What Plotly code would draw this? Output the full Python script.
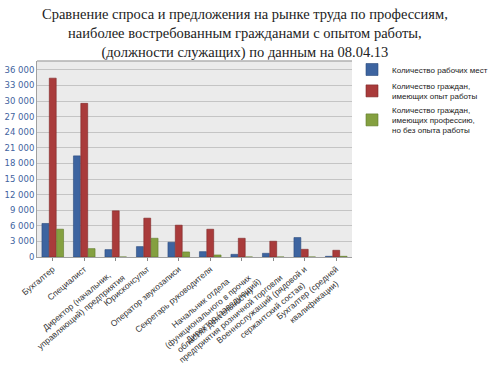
import plotly.graph_objects as go

NB = "\u00a0"
categories = [
    "Бухгалтер",
    "Специалист",
    "Директор (начальник," + NB * 4 + "<br>управляющий) предприятия",
    "Юрисконсульт",
    "Оператор звукозаписи",
    "Секретарь руководителя",
    "Начальник отдела" + NB * 8 + "<br>(функционального в прочих<br>областях деятельности)" + NB * 3,
    "Директор (заведующий)" + NB * 8 + "<br>предприятия розничной торговли",
    "Военнослужащий (рядовой и<br>сержантский состав)" + NB * 5,
    "Бухгалтер (средней<br>квалификации)" + NB * 4,
]
series_names = [
    "Количество рабочих мест",
    "Количество граждан,<br>имеющих опыт работы",
    "Количество граждан,<br>имеющих профессию,<br>но без опыта работы",
]
jobs = [6450, 19450, 1420, 2000, 2830, 1030, 510, 710, 3740, 130]
experienced = [34400, 29550, 8880, 7470, 6120, 5340, 3600, 3030, 1480, 1290]
no_experience = [5350, 1610, 0, 3600, 970, 390, 0, 0, 0, 130]

y_ticks = list(range(0, 36001, 3000))

colors = ["#3d64a0", "#a93b3b", "#84a040"]
lines = ["#2a4a7c", "#7d2626", "#5f7a2a"]

fig = go.Figure()
for name, vals, c, lc in zip(series_names, [jobs, experienced, no_experience], colors, lines):
    fig.add_trace(go.Bar(
        x=categories, y=vals, name=name,
        marker=dict(color=c, line=dict(color=lc, width=0.6)),
    ))

fig.update_layout(
    width=496, height=370,
    margin=dict(l=37, r=139, t=61, b=113),
    paper_bgcolor="white",
    plot_bgcolor="#ebebeb",
    separators=", ",
    barmode="group",
    bargap=0.3,
    bargroupgap=0.06,
    legend=dict(
        xref="container", yref="container",
        x=352 / 496, xanchor="left", y=1 - 55 / 370, yanchor="top",
        font=dict(family="Liberation Sans, Arial, sans-serif", size=8, color="#222222"),
        bgcolor="rgba(0,0,0,0)",
        itemwidth=30,
        tracegroupgap=0,
    ),
    showlegend=True,
)
fig.add_annotation(
    text="Сравнение спроса и предложения на рынке труда по профессиям,<br>"
         "наиболее востребованным гражданами с опытом работы,<br>"
         "(должности служащих) по данным на 08.04.13",
    xref="paper", yref="paper", x=(248 - 37) / 320, y=1 + (61 - 4) / 196,
    xanchor="center", yanchor="top", showarrow=False, align="center",
    font=dict(family="Liberation Serif, serif", size=14.5, color="#222222"),
)
fig.update_xaxes(
    tickangle=-40,
    tickfont=dict(family="Liberation Sans, Arial, sans-serif", size=8.5, color="#333333"),
    showline=True, linecolor="#a0a0a0", linewidth=1,
    ticks="outside", ticklen=3, tickcolor="#888888",
    automargin=False,
)
fig.update_yaxes(
    range=[0, 37700],
    tickvals=y_ticks,
    tickformat=",d",
    tickfont=dict(family="DejaVu Sans, sans-serif", size=8.5, color="#3f63a0"),
    showgrid=True, gridcolor="#c4c4c4", gridwidth=1,
    showline=True, linecolor="#a0a0a0", linewidth=1,
    zeroline=False,
    automargin=False,
)
fig.add_shape(type="line", xref="paper", yref="paper", x0=0, x1=1, y0=1, y1=1,
              line=dict(color="#b0b0b0", width=1.5))
fig.write_html("out.html", config={"displayModeBar": False},
               post_script="document.body.style.margin='0px';document.body.style.overflow='hidden';")
